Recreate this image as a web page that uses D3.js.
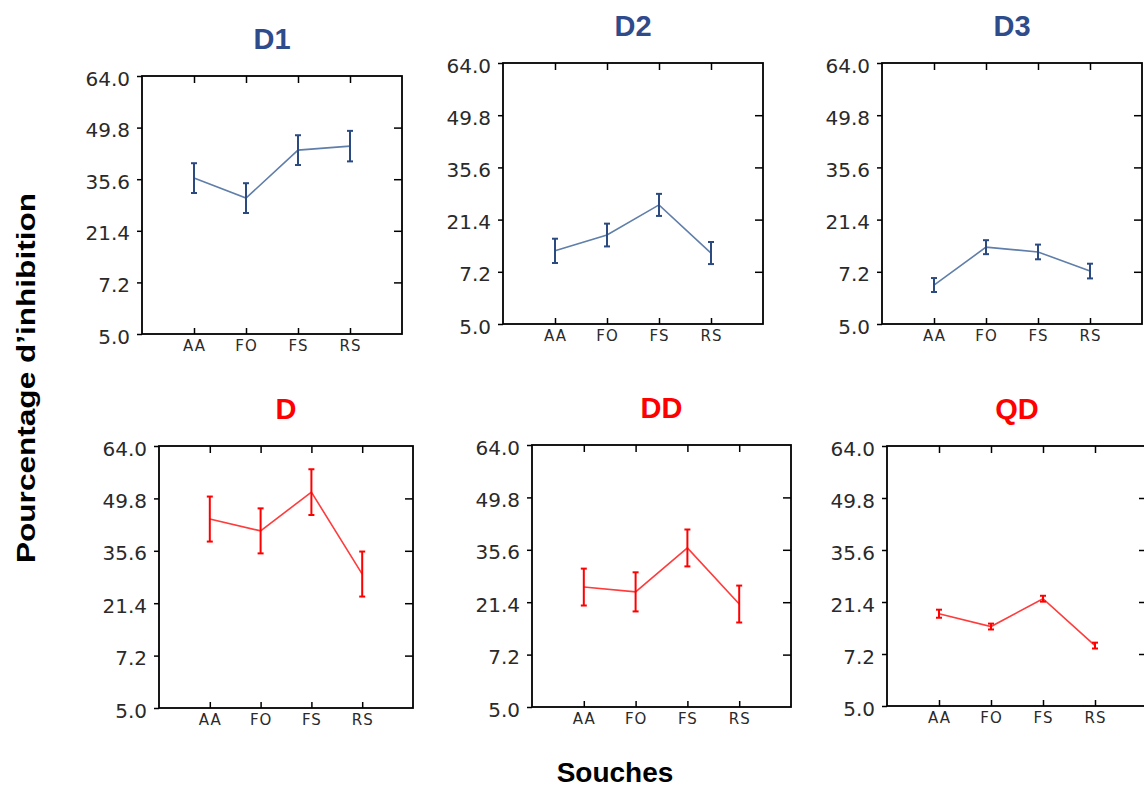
<!DOCTYPE html>
<html>
<head>
<meta charset="utf-8">
<script src="https://cdn.jsdelivr.net/npm/d3@7"></script>
<style>
  body { margin: 0; background: #fff; }
  svg { display: block; }
</style>
</head>
<body>
<div id="chart"></div>
<script>
// categories and axis labels
var souches = ["AA", "FO", "FS", "RS"];
var panelTitles = ["D1", "D2", "D3", "D", "DD", "QD"];
var yTickValues = [-7.0, 7.2, 21.4, 35.6, 49.8, 64.0];
var yTickLabels = ["5.0", "7.2", "21.4", "35.6", "49.8", "64.0"];

// means and error half-widths, one array per panel
var meansD1 = [35.9, 30.4, 43.6, 44.7];
var errD1   = [4.1, 4.1, 4.1, 4.2];
var meansD2 = [12.9, 17.2, 25.4, 12.3];
var errD2   = [3.3, 3.1, 3.0, 3.0];
var meansD3 = [3.6, 13.9, 12.6, 7.4];
var errD3   = [1.9, 1.9, 2.0, 2.0];
var meansD  = [44.2, 41.0, 51.5, 29.3];
var errD    = [6.1, 6.1, 6.2, 6.1];
var meansDD = [25.5, 24.2, 36.1, 20.9];
var errDD   = [5.0, 5.3, 5.0, 5.0];
var meansQD = [18.2, 14.7, 22.3, 9.5];
var errQD   = [1.1, 0.8, 0.8, 0.8];

var allMeans = [meansD1, meansD2, meansD3, meansD, meansDD, meansQD];
var allErrs = [errD1, errD2, errD3, errD, errDD, errQD];

//Layout: panel boxes (left, top, width, height)
var boxes = [
  [142, 76, 260, 258], [503, 63, 260, 261], [882, 63, 260, 261],
  [159, 446, 254, 262], [532, 445, 259, 262], [887, 446, 260, 260]
];

//Colors
var blueTitle = "#2e4c8c", blueBar = "#2b4a80", blueLine = "#5f7ea9";
var red = "#ff0000", redLine = "#ff3b3b";
var tickTextColor = "#2a2a2a";

var svg = d3.select("#chart").append("svg")
  .attr("width", 1144)
  .attr("height", 789);

for (var p = 0; p < 6; p++) {
  var b = boxes[p];
  var isTop = p < 3;
  var g = svg.append("g").attr("transform", "translate(" + b[0] + "," + b[1] + ")");

  var x = d3.scaleLinear().domain([0, 5]).range([0, b[2]]);
  var y = d3.scaleLinear().domain([-7, 64]).range([b[3], 0]);
  var catPos = souches.map(function (d, i) { return i + 1; });

  //Left axis with labels
  var left = g.append("g").call(d3.axisLeft(y)
      .tickValues(yTickValues)
      .tickFormat(function (d, i) { return yTickLabels[i]; })
      .tickSize(5).tickPadding(7));
  //Right axis, ticks inward
  var right = g.append("g").attr("transform", "translate(" + b[2] + ",0)")
    .call(d3.axisRight(y).tickValues(yTickValues.slice(1, 5)).tickSize(-8).tickFormat(""));
  //Top axis, ticks inward
  var topAx = g.append("g")
    .call(d3.axisTop(x).tickValues(catPos).tickSize(-7).tickFormat(""));
  //Bottom axis with category labels
  var bottom = g.append("g").attr("transform", "translate(0," + b[3] + ")")
    .call(d3.axisBottom(x).tickValues(catPos).tickSize(-6).tickPadding(6)
      .tickFormat(function (d) { return souches[d - 1]; }));

  [left, right, topAx, bottom].forEach(function (a) {
    a.select(".domain").remove();
    a.selectAll(".tick line").attr("stroke", "#000").attr("stroke-width", 1.5);
  });
  left.selectAll("text")
    .attr("font-family", "DejaVu Sans, Verdana, sans-serif")
    .attr("font-size", 20)
    .attr("dy", "0.45em")
    .attr("fill", tickTextColor);
  bottom.selectAll("text")
    .attr("font-family", "DejaVu Sans, Verdana, sans-serif")
    .attr("font-size", 15)
    .attr("letter-spacing", 1)
    .attr("fill", tickTextColor);

  //Frame
  g.append("rect")
    .attr("width", b[2]).attr("height", b[3])
    .attr("fill", "none").attr("stroke", "#000").attr("stroke-width", 1.8);

  //Title
  g.append("text")
    .text(panelTitles[p])
    .attr("x", b[2] / 2)
    .attr("y", -27)
    .attr("text-anchor", "middle")
    .attr("font-family", "Liberation Sans, Arial, sans-serif")
    .attr("font-weight", "bold")
    .attr("font-size", 29)
    .attr("fill", isTop ? blueTitle : red);

  //Line through means
  var means = allMeans[p], errs = allErrs[p];
  var line = d3.line()
    .x(function (d, i) { return x(i + 1); })
    .y(function (d) { return y(d); });
  g.append("path")
    .datum(means)
    .attr("d", line)
    .attr("fill", "none")
    .attr("stroke", isTop ? blueLine : redLine)
    .attr("stroke-width", 1.6);

  //Error bars
  var barColor = isTop ? blueBar : red;
  var bars = g.selectAll(".err").data(means).enter().append("g").attr("class", "err");
  bars.append("line")
    .attr("x1", function (d, i) { return x(i + 1); })
    .attr("x2", function (d, i) { return x(i + 1); })
    .attr("y1", function (d, i) { return y(d - errs[i]); })
    .attr("y2", function (d, i) { return y(d + errs[i]); })
    .attr("stroke", barColor).attr("stroke-width", 2);
  [-1, 1].forEach(function (s) {
    bars.append("line")
      .attr("x1", function (d, i) { return x(i + 1) - 3; })
      .attr("x2", function (d, i) { return x(i + 1) + 3; })
      .attr("y1", function (d, i) { return y(d + s * errs[i]); })
      .attr("y2", function (d, i) { return y(d + s * errs[i]); })
      .attr("stroke", barColor).attr("stroke-width", 2);
  });
}

//Axis titles
svg.append("text")
  .text("Pourcentage d\u2019inhibition")
  .attr("transform", "translate(35,378) rotate(-90)")
  .attr("text-anchor", "middle")
  .attr("textLength", 370)
  .attr("lengthAdjust", "spacingAndGlyphs")
  .attr("font-family", "Liberation Sans, Arial, sans-serif")
  .attr("font-weight", "bold")
  .attr("font-size", 25)
  .attr("fill", "#000");

svg.append("text")
  .text("Souches")
  .attr("x", 615)
  .attr("y", 782)
  .attr("text-anchor", "middle")
  .attr("font-family", "Liberation Sans, Arial, sans-serif")
  .attr("font-weight", "bold")
  .attr("font-size", 28)
  .attr("fill", "#000");
</script>
</body>
</html>
